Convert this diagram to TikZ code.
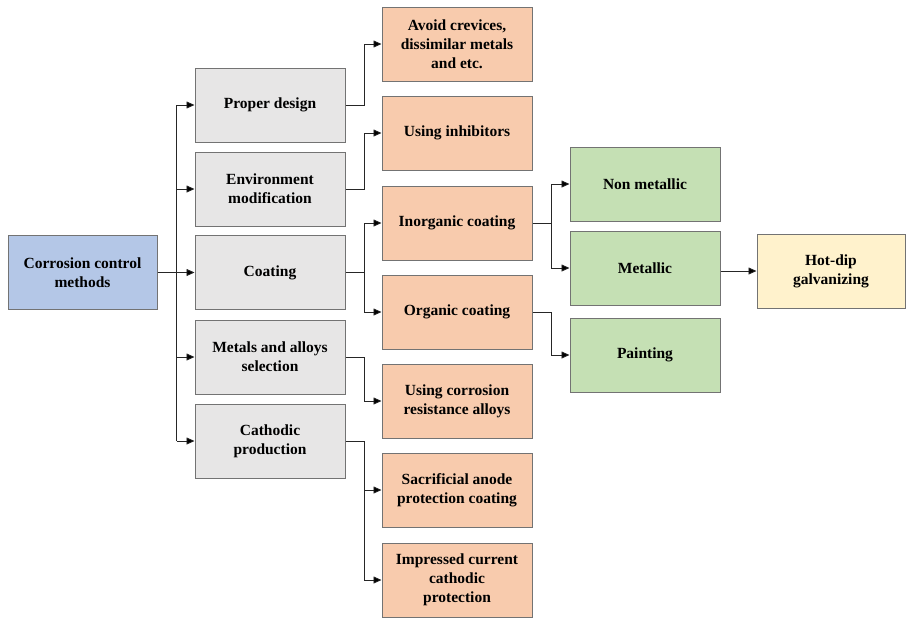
\documentclass[tikz,border=0pt]{standalone}
\usepackage{fontspec}
\setmainfont{Liberation Serif}[BoldFont={Liberation Serif Bold}]
\usepackage{xcolor}
\usepackage{tikz}
\usetikzlibrary{shapes,arrows.meta,positioning}

\definecolor{rootblue}{HTML}{B4C7E7}
\definecolor{methgray}{HTML}{E7E6E6}
\definecolor{subpeach}{HTML}{F8CBAD}
\definecolor{typegreen}{HTML}{C5E0B4}
\definecolor{endyellow}{HTML}{FFF2CC}

\begin{document}
\begin{tikzpicture}[
    x=1pt, y=-1pt,
    box/.style={rectangle, draw=black!55, line width=1pt, minimum width=150pt, minimum height=74pt, align=center, font=\fontsize{15.5}{19}\selectfont\bfseries, inner sep=2pt},
    arrow/.style={-{Triangle[length=8pt,width=7pt,fill=black]}, line width=0.8pt, draw=black!85},
    wire/.style={line width=0.8pt, draw=black!85}
]
    \useasboundingbox (0,0) rectangle (906,619);

    % Root
    \node[box, fill=rootblue, minimum width=149pt] (root) at (82.5,272.5) {Corrosion control\\methods};

    % Methods
    \node[box, fill=methgray] (design) at (270,105) {Proper design};
    \node[box, fill=methgray] (environ) at (270,189) {Environment\\modification};
    \node[box, fill=methgray] (coating) at (270,272.5) {Coating};
    \node[box, fill=methgray] (metals) at (270,357) {Metals and alloys\\selection};
    \node[box, fill=methgray] (cathodic) at (270,441) {Cathodic\\production};

    % Sub-methods
    \node[box, fill=subpeach] (crevices) at (457,44) {Avoid crevices,\\dissimilar metals\\and etc.};
    \node[box, fill=subpeach] (inhib) at (457,133) {Using inhibitors};
    \node[box, fill=subpeach] (inorg) at (457,223) {Inorganic coating};
    \node[box, fill=subpeach] (organ) at (457,312) {Organic coating};
    \node[box, fill=subpeach] (alloys) at (457,401) {Using corrosion\\resistance alloys};
    \node[box, fill=subpeach] (sacri) at (457,490) {Sacrificial anode\\protection coating};
    \node[box, fill=subpeach] (impress) at (457,580) {Impressed current\\cathodic\\protection};

    % Coating types
    \node[box, fill=typegreen] (nonmet) at (645,184) {Non metallic};
    \node[box, fill=typegreen] (metal) at (645,268) {Metallic};
    \node[box, fill=typegreen] (paint) at (645,355) {Painting};

    % Final
    \node[box, fill=endyellow, minimum width=148pt] (galv) at (831,271) {Hot-dip\\galvanizing};

    % Root to methods
    \draw[wire] (root.east) -- ++(19,0) coordinate (j0);
    \draw[wire] (j0 |- design.west) -- (j0 |- cathodic.west);
    \draw[arrow] (j0 |- design.west) -- (design.west);
    \draw[arrow] (j0 |- environ.west) -- (environ.west);
    \draw[arrow] (root.east) -- (coating.west);
    \draw[arrow] (j0 |- metals.west) -- (metals.west);
    \draw[arrow] (j0 |- cathodic.west) -- (cathodic.west);

    % Methods to sub-methods
    \draw[arrow] (design.east) -- ++(19,0) coordinate (j1) |- (crevices.west);
    \draw[arrow] (environ.east) -- ++(19,0) |- (inhib.west);
    \draw[wire] (coating.east) -- ++(19,0) coordinate (j2);
    \draw[arrow] (j2) |- (inorg.west);
    \draw[arrow] (j2) |- (organ.west);
    \draw[arrow] (metals.east) -- ++(19,0) |- (alloys.west);
    \draw[arrow] (cathodic.east) -- ++(19,0) coordinate (j3) |- (sacri.west);
    \draw[arrow] (j3) |- (impress.west);

    % Coatings to types
    \draw[wire] (inorg.east) -- ++(19,0) coordinate (j4);
    \draw[arrow] (j4) |- (nonmet.west);
    \draw[arrow] (j4) |- (metal.west);
    \draw[arrow] (organ.east) -- ++(19,0) |- (paint.west);
    \draw[arrow] (metal.east |- galv.west) -- (galv.west);
\end{tikzpicture}
\end{document}
